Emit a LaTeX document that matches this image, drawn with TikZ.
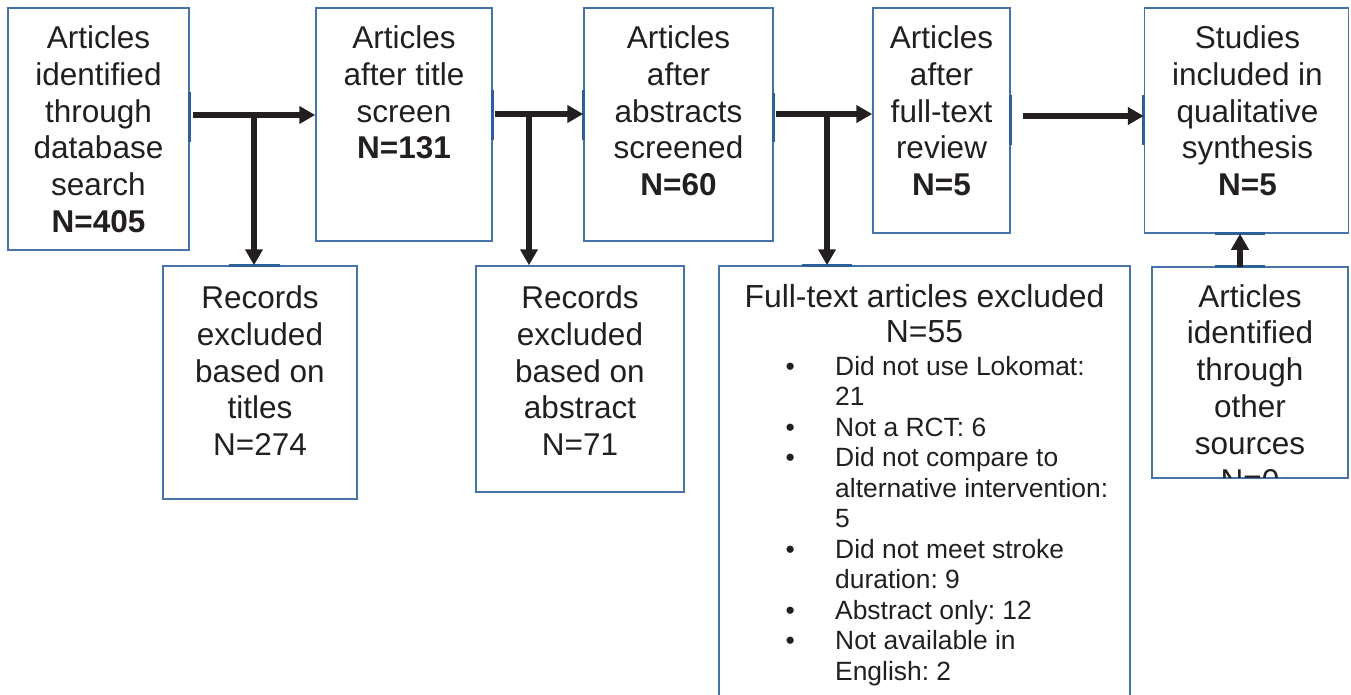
\documentclass[tikz,border=0pt]{standalone}
\usepackage{fontspec}
\setmainfont{Liberation Sans}
\usetikzlibrary{arrows.meta}
\frenchspacing
\definecolor{boxblue}{RGB}{70,115,168}
\definecolor{portblue}{RGB}{45,95,155}
\definecolor{arrowblack}{RGB}{35,31,32}
\tikzset{
  box/.style={draw=boxblue, line width=1.5pt, inner sep=0pt, fill=none},
  boxtext/.style={anchor=north, inner sep=0pt, align=center, text=arrowblack,
    font=\fontsize{31.5}{36.8}\selectfont},
  headtext/.style={anchor=north, inner sep=0pt, align=center, text=arrowblack,
    font=\fontsize{31.9}{35}\selectfont},
  listtext/.style={anchor=north west, inner sep=0pt, text=arrowblack,
    font=\fontsize{26.4}{30.5}\selectfont},
  flow/.style={draw=arrowblack, line width=5.5pt, -{Triangle[length=16pt,width=17pt]}},
  port/.style={draw=portblue, line width=3pt}
}
\begin{document}
\begin{tikzpicture}[x=1pt,y=-1pt]
\useasboundingbox (0,0) rectangle (1351,694);
\fill[white] (0,0) rectangle (1351,694);

% boxes
\node[box, minimum width=181pt, minimum height=242pt] (b1) at (98.5,129) {};
\node[box, minimum width=176pt, minimum height=233pt] (b2) at (404,124.5) {};
\node[box, minimum width=189pt, minimum height=233pt] (b3) at (678.5,124.5) {};
\node[box, minimum width=137pt, minimum height=225pt] (b4) at (941.5,120.5) {};
\node[box, minimum width=204pt, minimum height=225pt] (b5) at (1246.5,120.5) {};
\node[box, minimum width=194pt, minimum height=233pt] (b6) at (260,382.5) {};
\node[box, minimum width=208pt, minimum height=226pt] (b7) at (580,379) {};
\node[box, minimum width=411pt, minimum height=434pt] (b8) at (924.5,483) {};
\node[box, minimum width=196pt, minimum height=211pt] (b9) at (1250,372.5) {};

% port marks
\draw[port] (b1.east |- 0,92) -- (b1.east |- 0,142);
\draw[port] (b2.east |- 0,90) -- (b2.east |- 0,140);
\draw[port] (b3.west |- 0,90) -- (b3.west |- 0,140);
\draw[port] (b3.east |- 0,93) -- (b3.east |- 0,142);
\draw[port] (b4.east |- 0,95) -- (b4.east |- 0,145);
\draw[port] (b5.west |- 0,95) -- (b5.west |- 0,145);
\draw[port] (b6.north -| 229,0) -- (b6.north -| 280,0);
\draw[port] (b8.north -| 802,0) -- (b8.north -| 852,0);
\draw[port] (b5.south -| 1215,0) -- (b5.south -| 1265,0);
\draw[port] (b9.north -| 1215,0) -- (b9.north -| 1265,0);

% texts
\node[boxtext] (t1) at (98.5,25.5) {Articles\\identified\\through\\database\\search\\\textbf{N=405}};
\node[boxtext] (t2) at (404,25.5) {Articles\\after title\\screen\\\textbf{N=131}};
\node[boxtext] (t3) at (678.5,25.5) {Articles\\after\\abstracts\\screened\\\textbf{N=60}};
\node[boxtext] (t4) at (941.5,25.5) {Articles\\after\\full-text\\review\\\textbf{N=5}};
\node[boxtext] (t5) at (1247.5,25.5) {Studies\\included in\\qualitative\\synthesis\\\textbf{N=5}};
\node[boxtext] (t6) at (260,285.5) {Records\\excluded\\based on\\titles\\N=274};
\node[boxtext] (t7) at (580,285.5) {Records\\excluded\\based on\\abstract\\N=71};
\node[headtext] (t8) at (924.5,284) {Full-text articles excluded\\N=55};
\node[listtext] (t8list) at (785.4,353.6) {\renewcommand{\arraystretch}{1}%
\begin{tabular}{@{}p{49.6pt}@{}l@{}}
\textbullet & Did not use Lokomat:\\
 & 21\\
\textbullet & Not a RCT: 6\\
\textbullet & Did not compare to\\
 & alternative intervention:\\
 & 5\\
\textbullet & Did not meet stroke\\
 & duration: 9\\
\textbullet & Abstract only: 12\\
\textbullet & Not available in\\
 & English: 2
\end{tabular}};
\begin{scope}
\clip (1153,268) rectangle (1347,477);
\node[boxtext] (t9) at (1250,284) {Articles\\identified\\through\\other\\sources\\N=0};
\end{scope}

% connectors
\coordinate (s1) at (193,115);
\coordinate (j1) at (254,113);
\draw[flow] (s1) -- (s1 -| b2.west);
\draw[flow] (j1) -- (j1 |- b6.north);
\coordinate (s2) at (495,114);
\coordinate (j2) at (529,112);
\draw[flow] (s2) -- (s2 -| b3.west);
\draw[flow] (j2) -- (j2 |- b7.north);
\coordinate (s3) at (776,114);
\coordinate (j3) at (827,116);
\draw[flow] (s3) -- (s3 -| b4.west);
\draw[flow] (j3) -- (j3 |- b8.north);
\coordinate (s4) at (1023,116);
\draw[flow] (s4) -- (s4 -| b5.west);
\coordinate (s5) at (1240,267);
\draw[flow] (s5) -- (s5 |- b5.south);
\end{tikzpicture}
\end{document}
